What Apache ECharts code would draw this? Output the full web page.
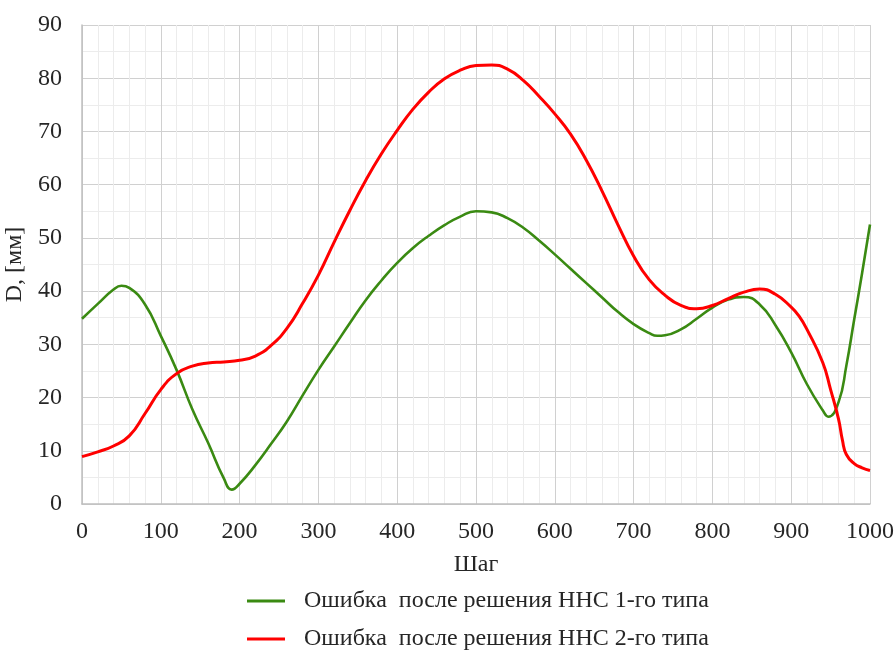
<!DOCTYPE html>
<html>
<head>
<meta charset="utf-8">
<script src="https://cdn.jsdelivr.net/npm/echarts@6/dist/echarts.min.js"></script>
<style>
html,body{margin:0;padding:0;background:#fff;}
#chart{width:895px;height:650px;}
</style>
</head>
<body>
<div id="chart"></div>
<script>
// Series 1 (green): step -> error
const greenX = [0,20,40,50,60,80,100,120,140,160,180,190,200,220,240,260,280,300,320,340,360,380,400,420,440,460,480,500,520,540,560,580,600,620,640,660,680,700,720,730,740,760,780,800,820,840,860,880,900,920,940,947,960,970,980,990,1000];
const greenY = [34.8,37.6,40.3,41,40.6,37.5,31.6,25.2,17.8,11.5,4.8,2.7,3.8,7.3,11.3,15.5,20.4,25.2,29.6,34,38.3,42,45.3,48.1,50.4,52.4,54,55,54.8,53.7,51.9,49.5,46.9,44.2,41.5,38.8,36.1,33.8,32.1,31.6,31.7,32.8,34.8,36.9,38.4,38.9,37.5,33.6,28.5,22.5,17.6,16.4,19.1,26,34.7,43.4,52.5];
// Series 2 (red)
const redX = [0,20,40,60,80,100,120,140,160,180,200,220,240,260,280,300,320,340,360,380,400,420,440,460,480,500,520,540,560,580,600,620,640,660,680,700,720,740,760,780,800,820,840,860,880,900,910,920,940,950,960,965,970,980,990,1000];
const redY = [8.9,9.8,10.9,12.8,17,21.5,24.5,25.9,26.5,26.7,27,27.8,29.8,33,37.7,43,49.2,55.2,60.8,65.8,70.2,74.2,77.4,79.9,81.5,82.4,82.5,81.7,79.6,76.6,73.3,69.5,64.6,58.8,52.5,46.6,42.1,39.2,37.3,36.7,37.3,38.6,39.8,40.4,39.4,37,35.3,32.8,26.6,21.5,16,12,9.3,7.6,6.8,6.3];
const seriesNames = ['Ошибка  после решения ННС 1-го типа', 'Ошибка  после решения ННС 2-го типа'];
const xAxisName = 'Шаг';
const yAxisName = 'D, [мм]';

const zip = (xs, ys) => xs.map((x, i) => [x, ys[i]]);
const FONT = 'Liberation Serif';
const FS = 24;
const TXT = '#262626';

const legendCommon = {
  orient: 'horizontal', left: 242,
  icon: 'rect', itemWidth: 38, itemHeight: 3,
  textStyle: {fontFamily: FONT, fontSize: FS, color: TXT, padding: [0, 0, 0, 14]}
};

const chart = echarts.init(document.getElementById('chart'), null, {renderer: 'canvas'});
chart.setOption({
  animation: false,
  backgroundColor: '#fff',
  grid: {left: 82, right: 25, top: 25, bottom: 146, containLabel: false, outerBoundsMode: 'none'},
  xAxis: {
    type: 'value', min: 0, max: 1000, interval: 100,
    name: xAxisName, nameLocation: 'middle', nameGap: 49,
    nameTextStyle: {fontFamily: FONT, fontSize: FS, color: TXT},
    axisLine: {show: true, lineStyle: {color: '#bfbfbf', width: 1.5}},
    axisTick: {show: false},
    axisLabel: {fontFamily: FONT, fontSize: FS, color: TXT, margin: 16, formatter: v => String(v)},
    splitLine: {show: true, lineStyle: {color: '#d0d0d0', width: 1}},
    minorTick: {show: false, splitNumber: 5},
    minorSplitLine: {show: true, lineStyle: {color: '#ececec', width: 1}}
  },
  yAxis: {
    type: 'value', min: 0, max: 90, interval: 10,
    name: yAxisName, nameLocation: 'middle', nameGap: 40, nameRotate: 90,
    nameTextStyle: {fontFamily: FONT, fontSize: FS, color: TXT},
    axisLine: {show: true, lineStyle: {color: '#bfbfbf', width: 1.5}},
    axisTick: {show: false},
    axisLabel: {fontFamily: FONT, fontSize: FS, color: TXT, margin: 20},
    splitLine: {show: true, lineStyle: {color: '#d0d0d0', width: 1}},
    minorTick: {show: false, splitNumber: 2},
    minorSplitLine: {show: true, lineStyle: {color: '#ececec', width: 1}}
  },
  legend: [
    Object.assign({}, legendCommon, {top: 584, data: [seriesNames[0]]}),
    Object.assign({}, legendCommon, {top: 622, data: [seriesNames[1]]})
  ],
  series: [
    {
      name: seriesNames[0], type: 'line', data: zip(greenX, greenY),
      smooth: 0.5, symbol: 'none',
      lineStyle: {color: '#3a8a12', width: 2.6}, itemStyle: {color: '#3a8a12'}
    },
    {
      name: seriesNames[1], type: 'line', data: zip(redX, redY),
      smooth: 0.5, symbol: 'none',
      lineStyle: {color: '#ff0000', width: 3}, itemStyle: {color: '#ff0000'}
    }
  ]
});
</script>
</body>
</html>
